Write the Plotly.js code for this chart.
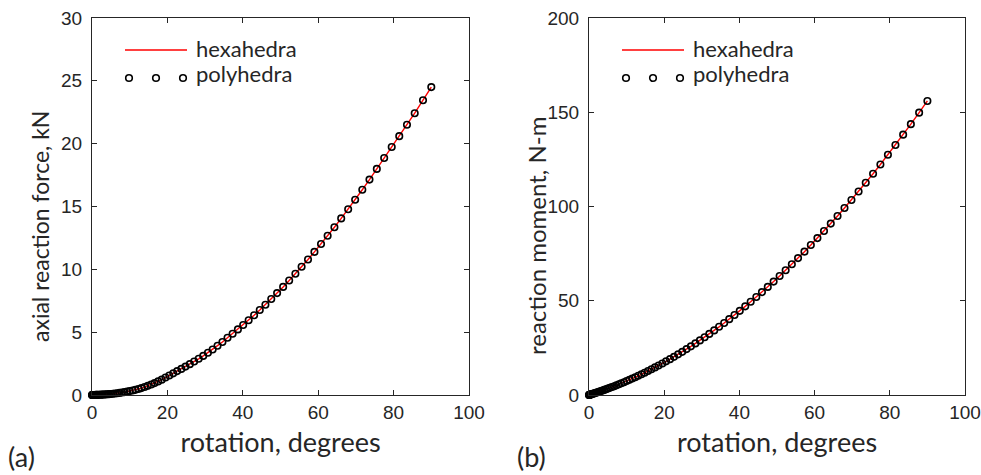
<!DOCTYPE html>
<html><head><meta charset="utf-8">
<script src="https://cdn.plot.ly/plotly-3.0.1.min.js"></script>
<style>body{margin:0;background:#fff}#c{width:981px;height:475px}</style></head>
<body><div id="c"></div>
<script>
// rotation, degrees (shared by both simulations)
const rotation = [0,0.05,0.1,0.2,0.3,0.45,0.6,0.8,1.0,1.25,1.5,1.8,2.1,2.45,2.8,3.2,3.6,4.05,4.5,5.0,
5.55,6.1,6.7,7.3,7.95,8.6,9.3,10.0,10.75,11.5,12.3,13.1,13.95,14.8,15.7,16.6,17.55,18.5,19.5,20.5,
21.55,22.6,23.7,24.8,25.95,27.1,28.3,29.5,30.75,32.0,33.3,34.6,35.95,37.3,38.7,40.1,41.55,43.0,44.5,46.0,
47.55,49.1,50.7,52.3,53.95,55.6,57.3,59.0,60.75,62.5,64.3,66.1,67.95,69.8,71.7,73.6,75.55,77.5,79.5,81.5,
83.55,85.6,87.8,90.0];

// axial reaction force, kN
const forcePolyhedra = [0,0,0.0002,0.0006,0.001,0.002,0.003,0.005,0.006,0.009,0.012,0.016,0.02,0.026,0.032,0.04,0.048,0.058,0.068,0.08,
0.098,0.118,0.141,0.167,0.197,0.229,0.267,0.309,0.356,0.409,0.475,0.548,0.631,0.730,0.834,0.946,1.084,1.221,1.389,1.556,
1.724,1.901,2.076,2.258,2.456,2.661,2.882,3.112,3.360,3.617,3.925,4.222,4.553,4.875,5.219,5.574,5.953,6.343,6.758,7.185,
7.640,8.107,8.602,9.112,9.650,10.204,10.788,11.387,12.021,12.669,13.353,14.052,14.786,15.541,16.332,17.141,17.993,18.863,19.733,20.598,
21.506,22.423,23.457,24.5];
const forceHexahedra = [0,0,0.0002,0.0006,0.001,0.002,0.003,0.005,0.006,0.009,0.012,0.016,0.02,0.026,0.032,0.04,0.048,0.058,0.068,0.08,
0.098,0.118,0.141,0.167,0.197,0.229,0.267,0.309,0.356,0.409,0.475,0.548,0.631,0.730,0.834,0.946,1.084,1.221,1.389,1.556,
1.724,1.901,2.076,2.258,2.456,2.661,2.882,3.112,3.360,3.617,3.925,4.222,4.553,4.875,5.219,5.574,5.953,6.343,6.758,7.185,
7.640,8.107,8.602,9.112,9.650,10.204,10.788,11.387,12.021,12.669,13.353,14.052,14.786,15.541,16.332,17.141,17.993,18.863,19.733,20.598,
21.506,22.423,23.457,24.5];

// reaction moment, N-m
const momentPolyhedra = [0,0.031,0.062,0.124,0.186,0.28,0.374,0.50,0.628,0.79,0.95,1.15,1.35,1.58,1.82,2.10,2.38,2.70,3.02,3.39,
3.80,4.22,4.68,5.16,5.68,6.21,6.80,7.40,8.05,8.72,9.45,10.19,11.00,11.83,12.72,13.64,14.63,15.64,16.73,17.84,
19.03,20.25,21.56,22.90,24.34,25.80,27.37,28.97,30.67,32.41,34.27,36.17,38.18,40.24,42.42,44.65,47.02,49.43,51.99,54.59,
57.35,60.16,63.13,66.16,69.36,72.62,76.05,79.55,83.23,86.99,90.93,94.95,99.17,103.47,107.98,112.58,117.39,122.30,127.43,132.66,
138.12,143.69,149.79,156.0];
const momentHexahedra = [0,0.031,0.062,0.124,0.186,0.28,0.374,0.50,0.628,0.79,0.95,1.15,1.35,1.58,1.82,2.10,2.38,2.70,3.02,3.39,
3.80,4.22,4.68,5.16,5.68,6.21,6.80,7.40,8.05,8.72,9.45,10.19,11.00,11.83,12.72,13.64,14.63,15.64,16.73,17.84,
19.03,20.25,21.56,22.90,24.34,25.80,27.37,28.97,30.67,32.41,34.27,36.17,38.18,40.24,42.42,44.65,47.02,49.43,51.99,54.59,
57.35,60.16,63.13,66.16,69.36,72.62,76.05,79.55,83.23,86.99,90.93,94.95,99.17,103.47,107.98,112.58,117.39,122.30,127.43,132.66,
138.12,143.69,149.79,156.0];

const seriesNames = ['hexahedra','polyhedra'];
const xTicks = [0,20,40,60,80,100];
const forceTicks = [0,5,10,15,20,25,30];
const momentTicks = [0,50,100,150,200];
const panelLabels = ['(a)','(b)'];
const xTitle = 'rotation, degrees';
const yTitles = ['axial reaction force, kN','reaction moment, N-m'];

const W = 981, H = 475;
const px = v => v / W, py = v => 1 - v / H;
const ink = '#262626';
const fam = 'Lato, "Noto Sans", sans-serif';
const xTitleFont = {family:fam, size:27, color:ink};
const tickFont = {family:'"Liberation Sans", Arial, sans-serif', size:19, color:ink};

function axis(extra){
  return Object.assign({showline:true, linecolor:ink, linewidth:1, mirror:'ticks',
    ticks:'inside', ticklen:5, tickwidth:1, tickcolor:ink, showgrid:false, zeroline:false,
    tickfont:tickFont, ticklabeloverflow:'allow', fixedrange:true}, extra);
}

const lineStyle = {color:'#ff0000', width:1.4};
const markerStyle = {symbol:'circle-open', size:6.5, color:'#000', line:{width:1.6, color:'#000'}};

const traces = [
  {x:rotation, y:forceHexahedra, name:seriesNames[0], mode:'lines', line:lineStyle, xaxis:'x', yaxis:'y', cliponaxis:false},
  {x:rotation, y:forcePolyhedra, name:seriesNames[1], mode:'markers', marker:markerStyle, xaxis:'x', yaxis:'y', cliponaxis:false},
  {x:rotation, y:momentHexahedra, name:seriesNames[0], mode:'lines', line:lineStyle, xaxis:'x2', yaxis:'y2', cliponaxis:false},
  {x:rotation, y:momentPolyhedra, name:seriesNames[1], mode:'markers', marker:markerStyle, xaxis:'x2', yaxis:'y2', cliponaxis:false}
];

const yDom = [py(395), py(18)];
const layout = {
  width:W, height:H, margin:{l:0,r:0,t:0,b:0}, showlegend:false,
  paper_bgcolor:'#fff', plot_bgcolor:'#fff',
  xaxis: axis({domain:[px(92), px(469)], range:[0,100], tickvals:xTicks, anchor:'y',
    title:{text:xTitle, font:xTitleFont, standoff:11}}),
  yaxis: axis({domain:yDom, range:[0,30], tickvals:forceTicks, anchor:'x', ticklabelstandoff:5}),
  xaxis2: axis({domain:[px(589), px(965)], range:[0,100], tickvals:xTicks, anchor:'y2',
    title:{text:xTitle, font:xTitleFont, standoff:11}}),
  yaxis2: axis({domain:yDom, range:[0,200], tickvals:momentTicks, anchor:'x2', ticklabelstandoff:5}),
  shapes:[], annotations:[]
};

// y-axis titles
layout.annotations.push({xref:'paper', yref:'paper', x:px(40), y:py(227), xanchor:'center', yanchor:'middle', textangle:-90, text:yTitles[0], showarrow:false, font:{family:fam, size:23, color:ink}});
layout.annotations.push({xref:'paper', yref:'paper', x:px(536), y:py(236), xanchor:'center', yanchor:'middle', textangle:-90, text:yTitles[1], showarrow:false, font:{family:fam, size:24, color:ink}});

// hand-drawn legends (MATLAB style: long line sample, three markers)
function legend(x0, textX){
  layout.shapes.push({type:'line', xref:'paper', yref:'paper', x0:px(x0), x1:px(x0+62), y0:py(50), y1:py(50), line:{color:'#ff0000', width:1.6}});
  [4, 31, 58].forEach(d => {
    const cx = x0 + d, cy = 78, r = 3.3;
    layout.shapes.push({type:'circle', xref:'paper', yref:'paper', x0:px(cx-r), x1:px(cx+r), y0:py(cy+r), y1:py(cy-r), line:{color:'#000', width:1.6}});
  });
  layout.annotations.push({xref:'paper', yref:'paper', x:px(textX), y:py(48), xanchor:'left', yanchor:'middle', text:seriesNames[0], showarrow:false, font:{family:fam, size:22, color:ink}});
  layout.annotations.push({xref:'paper', yref:'paper', x:px(textX), y:py(74), xanchor:'left', yanchor:'middle', text:seriesNames[1], showarrow:false, font:{family:fam, size:22, color:ink}});
}
legend(125, 194);
legend(622, 691);

layout.annotations.push({xref:'paper', yref:'paper', x:px(6), y:py(456), xanchor:'left', yanchor:'middle', text:panelLabels[0], showarrow:false, font:{family:fam, size:27, color:ink}});
layout.annotations.push({xref:'paper', yref:'paper', x:px(515), y:py(456), xanchor:'left', yanchor:'middle', text:panelLabels[1], showarrow:false, font:{family:fam, size:27, color:ink}});

Plotly.newPlot('c', traces, layout, {staticPlot:true, displayModeBar:false});
</script></body></html>
